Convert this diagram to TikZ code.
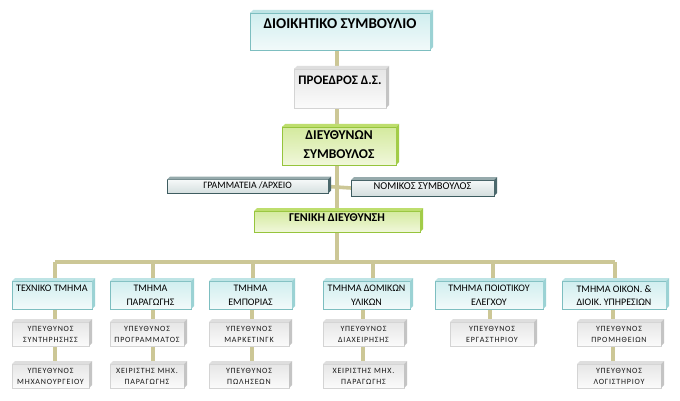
\documentclass[tikz,border=0pt]{standalone}
\usepackage{fontspec}
\setmainfont{Carlito}
\newfontfamily\subfont[LetterSpace=10]{Carlito}
\usetikzlibrary{backgrounds}
\definecolor{lineC}{RGB}{204,199,150}
\definecolor{cyT}{RGB}{208,238,239}
\definecolor{cyB}{RGB}{242,250,250}
\definecolor{cyD}{RGB}{125,190,192}
\definecolor{cyTop}{RGB}{190,228,229}
\definecolor{cySide}{RGB}{155,210,212}
\definecolor{grT}{RGB}{230,230,230}
\definecolor{grB}{RGB}{251,251,251}
\definecolor{grD}{RGB}{212,212,212}
\definecolor{grTop}{RGB}{222,222,222}
\definecolor{grSide}{RGB}{196,196,196}
\definecolor{gnT}{RGB}{212,234,158}
\definecolor{gnB}{RGB}{240,247,218}
\definecolor{gnD}{RGB}{150,196,60}
\definecolor{gnTop}{RGB}{190,222,110}
\definecolor{gnSide}{RGB}{162,204,72}
\definecolor{dkT}{RGB}{246,249,249}
\definecolor{dkB}{RGB}{212,222,222}
\definecolor{dkD}{RGB}{62,92,96}
\definecolor{dkSide}{RGB}{75,104,108}
\definecolor{dkTop}{RGB}{150,170,172}
\newcommand\bxt[4]{\parbox[c][#2pt][t]{#1pt}{\centering\vspace*{#3pt}#4\par}}
\newcommand\bevbox[3]{%
  \fill[#2] (#1.north west) -- ([shift={(3pt,3pt)}]#1.north west) -- ([shift={(3pt,3pt)}]#1.north east) -- (#1.north east) -- cycle;
  \fill[#3] (#1.north east) -- ([shift={(3pt,3pt)}]#1.north east) -- ([shift={(3pt,3pt)}]#1.south east) -- (#1.south east) -- cycle;}
\begin{document}
\begin{tikzpicture}[x=1pt,y=-1pt,
  every node/.style={inner sep=0pt,outer sep=0pt},
  cybox/.style={draw=cyD,line width=0.6pt,top color=cyT,bottom color=cyB},
  grbox/.style={draw=grD,line width=0.5pt,top color=grT,bottom color=grB},
  gnbox/.style={draw=gnD,line width=0.8pt,top color=gnT,bottom color=gnB},
  dkbox/.style={draw=dkD,line width=0.8pt,top color=dkT,bottom color=dkB},
  conn/.style={draw=lineC,line width=3.6pt},
  dept/.style={cybox,font=\fontsize{10}{13.5}\selectfont},
  sub/.style={grbox,font=\subfont\fontsize{8}{11}\selectfont,text=black!90}]
\useasboundingbox (0,0) rectangle (680,401);

% main column
\node[cybox,font=\bfseries\fontsize{15}{18}\selectfont] (top) at (340,31.5) {\bxt{180}{37}{6}{ΔΙΟΙΚΗΤΙΚΟ ΣΥΜΒΟΥΛΙΟ}};
\node[grbox,font=\bfseries\fontsize{13}{15}\selectfont] (pres) at (340,88.5) {\bxt{92}{39}{7}{ΠΡΟΕΔΡΟΣ Δ.Σ.}};
\node[gnbox,font=\bfseries\fontsize{13.5}{19}\selectfont] (ceo) at (339,146) {\bxt{114}{38}{4}{ΔΙΕΥΘΥΝΩΝ\\ΣΥΜΒΟΥΛΟΣ}};
\node[dkbox,font=\fontsize{9.8}{11}\selectfont] (gr) at (247.5,186.5) {\bxt{161}{14}{2}{ΓΡΑΜΜΑΤΕΙΑ /ΑΡΧΕΙΟ}};
\node[dkbox,font=\fontsize{10.5}{12}\selectfont] (nom) at (422.5,188) {\bxt{143}{16}{3}{ΝΟΜΙΚΟΣ ΣΥΜΒΟΥΛΟΣ}};
\node[gnbox,font=\bfseries\fontsize{12}{14}\selectfont] (gd) at (337,221.5) {\bxt{166}{21}{2.5}{ΓΕΝΙΚΗ ΔΙΕΥΘΥΝΣΗ}};

% departments
\node[dept] (d1) at (52,295) {\bxt{80}{28}{4}{ΤΕΧΝΙΚΟ ΤΜΗΜΑ}};
\node[dept] (d2) at (150.5,295) {\bxt{81}{28}{4.5}{ΤΜΗΜΑ\\ΠΑΡΑΓΩΓΗΣ}};
\node[dept] (d3) at (250.5,295) {\bxt{83}{28}{4.5}{ΤΜΗΜΑ\\ΕΜΠΟΡΙΑΣ}};
\node[dept] (d4) at (366.5,295) {\bxt{87}{28}{4.5}{ΤΜΗΜΑ ΔΟΜΙΚΩΝ\\ΥΛΙΚΩΝ}};
\node[dept] (d5) at (489,295) {\bxt{108}{28}{4.5}{ΤΜΗΜΑ ΠΟΙΟΤΙΚΟΥ\\ΕΛΕΓΧΟΥ}};
\node[dept] (d6) at (614,295) {\bxt{104}{28}{4.5}{ΤΜΗΜΑ ΟΙΚΟΝ. \&\\ΔΙΟΙΚ. ΥΠΗΡΕΣΙΩΝ}};

% sub units
\node[sub] (s11) at (50.5,334) {\bxt{77}{24}{4.5}{ΥΠΕΥΘΥΝΟΣ\\ΣΥΝΤΗΡΗΣΗΣΣ}};
\node[sub] (s12) at (50.5,376) {\bxt{77}{24}{4.5}{ΥΠΕΥΘΥΝΟΣ\\ΜΗΧΑΝΟΥΡΓΕΙΟΥ}};
\node[sub] (s21) at (147,334) {\bxt{74}{24}{4.5}{ΥΠΕΥΘΥΝΟΣ\\ΠΡΟΓΡΑΜΜΑΤΟΣ}};
\node[sub] (s22) at (147,376) {\bxt{74}{24}{4.5}{ΧΕΙΡΙΣΤΗΣ ΜΗΧ.\\ΠΑΡΑΓΩΓΗΣ}};
\node[sub] (s31) at (249,334) {\bxt{80}{24}{4.5}{ΥΠΕΥΘΥΝΟΣ\\ΜΑΡΚΕΤΙΝΓΚ}};
\node[sub] (s32) at (249,376) {\bxt{80}{24}{4.5}{ΥΠΕΥΘΥΝΟΣ\\ΠΩΛΗΣΕΩΝ}};
\node[sub] (s41) at (363.5,334) {\bxt{81}{24}{4.5}{ΥΠΕΥΘΥΝΟΣ\\ΔΙΑΧΕΙΡΗΣΗΣ}};
\node[sub] (s42) at (363.5,376) {\bxt{81}{24}{4.5}{ΧΕΙΡΙΣΤΗΣ ΜΗΧ.\\ΠΑΡΑΓΩΓΗΣ}};
\node[sub] (s51) at (492,334) {\bxt{84}{24}{4.5}{ΥΠΕΥΘΥΝΟΣ\\ΕΡΓΑΣΤΗΡΙΟΥ}};
\node[sub] (s61) at (619,334) {\bxt{84}{24}{4.5}{ΥΠΕΥΘΥΝΟΣ\\ΠΡΟΜΗΘΕΙΩΝ}};
\node[sub] (s62) at (619,376) {\bxt{84}{24}{4.5}{ΥΠΕΥΘΥΝΟΣ\\ΛΟΓΙΣΤΗΡΙΟΥ}};

% bevels
\foreach \n in {top,d1,d2,d3,d4,d5,d6}{\bevbox{\n}{cyTop}{cySide}}
\foreach \n in {pres,s11,s12,s21,s22,s31,s32,s41,s42,s51,s61,s62}{\bevbox{\n}{grTop}{grSide}}
\foreach \n in {ceo,gd}{\bevbox{\n}{gnTop}{gnSide}}
\foreach \n in {gr,nom}{\bevbox{\n}{dkTop}{dkSide}}

% bus and line coordinates
\coordinate (b1) at (55,262);
\coordinate (b2) at (153,262);
\coordinate (b3) at (253,262);
\coordinate (b4) at (373,262);
\coordinate (b5) at (493,262);
\coordinate (b6) at (615,262);
\coordinate (l1) at (55,0);
\coordinate (l2) at (153,0);
\coordinate (l3) at (252,0);
\coordinate (l4) at (363,0);
\coordinate (l5) at (490,0);
\coordinate (l6) at (613,0);

\begin{scope}[on background layer]
\fill[white] (0,0) rectangle (680,401);
\draw[conn] (top.south -| gd.north) -- (pres.south -| gd.north);
\draw[conn] (pres.south -| gd.north) -- (gd.north);
\draw[conn] (gr.east) -- (nom.west);
\draw[conn] (gd.south) -- (gd.south |- b1);
\draw[conn] (b1) -- (b6);
\draw[conn] (b1) -- (b1 |- d1.north);
\draw[conn] (b2) -- (b2 |- d2.north);
\draw[conn] (b3) -- (b3 |- d3.north);
\draw[conn] (b4) -- (b4 |- d4.north);
\draw[conn] (b5) -- (b5 |- d5.north);
\draw[conn] (b6) -- (b6 |- d6.north);
\draw[conn] (d1.south -| l1) -- (s12.north -| l1);
\draw[conn] (d2.south -| l2) -- (s22.north -| l2);
\draw[conn] (d3.south -| l3) -- (s32.north -| l3);
\draw[conn] (d4.south -| l4) -- (s42.north -| l4);
\draw[conn] (d5.south -| l5) -- (s51.north -| l5);
\draw[conn] (d6.south -| l6) -- (s62.north -| l6);
\end{scope}
\end{tikzpicture}
\end{document}
